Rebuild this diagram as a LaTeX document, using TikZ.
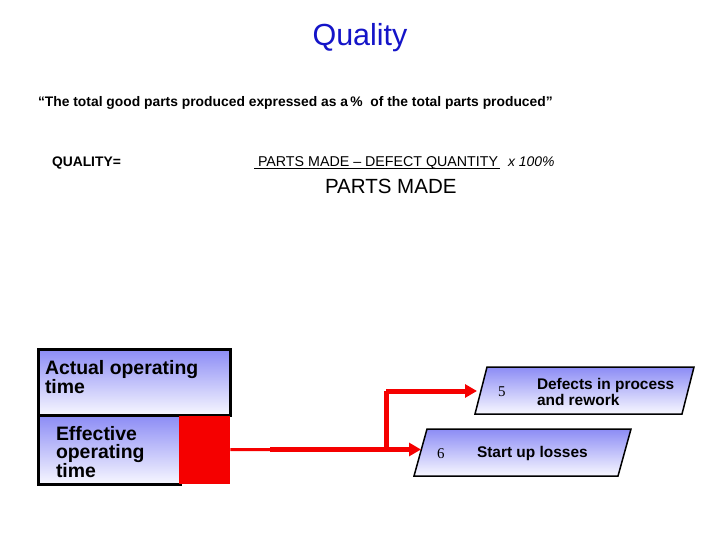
\documentclass[tikz,border=0pt]{standalone}
\usepackage{fontspec}
\setmainfont{Liberation Sans}
\newfontfamily\numfont{Liberation Serif}
\usetikzlibrary{arrows.meta}
\definecolor{titleblue}{RGB}{20,20,200}
\definecolor{shadetop}{RGB}{140,140,245}
\definecolor{shadebot}{RGB}{248,248,255}
\definecolor{lossred}{RGB}{245,0,0}
\tikzset{
  txt/.style={anchor=base west, inner sep=0pt, outer sep=0pt},
  gradbox/.style={draw=black, line width=3bp, top color=shadetop, bottom color=shadebot, inner sep=0pt, anchor=north west},
  para/.style={draw=black, line width=1.5bp, top color=shadetop, bottom color=shadebot},
  boxtext/.style={txt, align=left, font=\bfseries\fontsize{19.5}{18.5}\selectfont},
  paratext/.style={txt, align=left, font=\bfseries\fontsize{15.5}{16}\selectfont},
  numtext/.style={txt, font=\numfont\fontsize{15}{15}\selectfont},
  thinred/.style={draw=lossred, line width=3bp},
  thickred/.style={draw=lossred, line width=5bp},
  redarrow/.style={thickred, -{Triangle[length=12bp,width=13bp]}},
}
\begin{document}
\begin{tikzpicture}[x=1bp,y=-1bp]
\useasboundingbox (0,0) rectangle (720,540);
\fill[white] (0,0) rectangle (720,540);

% title and definition
\node[anchor=base, inner sep=0pt, text=titleblue, font=\fontsize{30.6}{31}\selectfont] (title) at (360,46) {Quality};
\node[txt, font=\bfseries\fontsize{13.9}{15}\selectfont] (quote) at (38,107) {“The total good parts produced expressed as a\,\%\ \ of the total parts produced”};
\node[txt, font=\bfseries\fontsize{13.9}{15}\selectfont] (qual) at (52,167) {QUALITY=};
\node[txt, font=\fontsize{14.3}{15}\selectfont] (numtxt) at (258,167) {PARTS MADE – DEFECT QUANTITY};
\node[txt, font=\itshape\fontsize{14}{15}\selectfont] (times) at (508,167) {x 100\%};
\draw[line width=1bp] (254,169) -- (500,169);
\node[txt, font=\fontsize{20.6}{21}\selectfont] (den) at (325,194) {PARTS MADE};

% time boxes
\node[gradbox, minimum width=192bp, minimum height=66bp] (actual) at (37,348) {};
\node[gradbox, minimum width=142bp, minimum height=69bp] (effective) at (37,414) {};
\node[fill=lossred, inner sep=0pt, anchor=north west, minimum width=51bp, minimum height=68bp] (redbox) at (179,415.5) {};
\node[boxtext] (actualtxt) at (45,393) {Actual operating\\time};
\node[boxtext] (effectivetxt) at (56,477) {Effective\\operating\\time};

% loss parallelograms
\path[para] (487,367) -- (694,367) -- (682,414) -- (475,414) -- cycle;
\path[para] (427,429) -- (631,429) -- (618,476) -- (414,476) -- cycle;
\node[numtext] (n5) at (498,396) {5};
\node[paratext] (defects) at (537,405) {Defects in process\\and rework};
\node[numtext] (n6) at (437,458) {6};
\node[paratext] (startup) at (477,457) {Start up losses};

% connectors
\coordinate (join) at (270,449.5);
\coordinate (branch) at (386,449.5);
\coordinate (bend) at (386,391);
\coordinate (in5) at (477,391);
\coordinate (in6) at (421,449.5);
\draw[thinred] (redbox.east) -- (join);
\draw[redarrow] (join) -- (in6);
\draw[thickred] (branch) -- (bend);
\draw[redarrow] (bend) -- (in5);
\end{tikzpicture}
\end{document}
